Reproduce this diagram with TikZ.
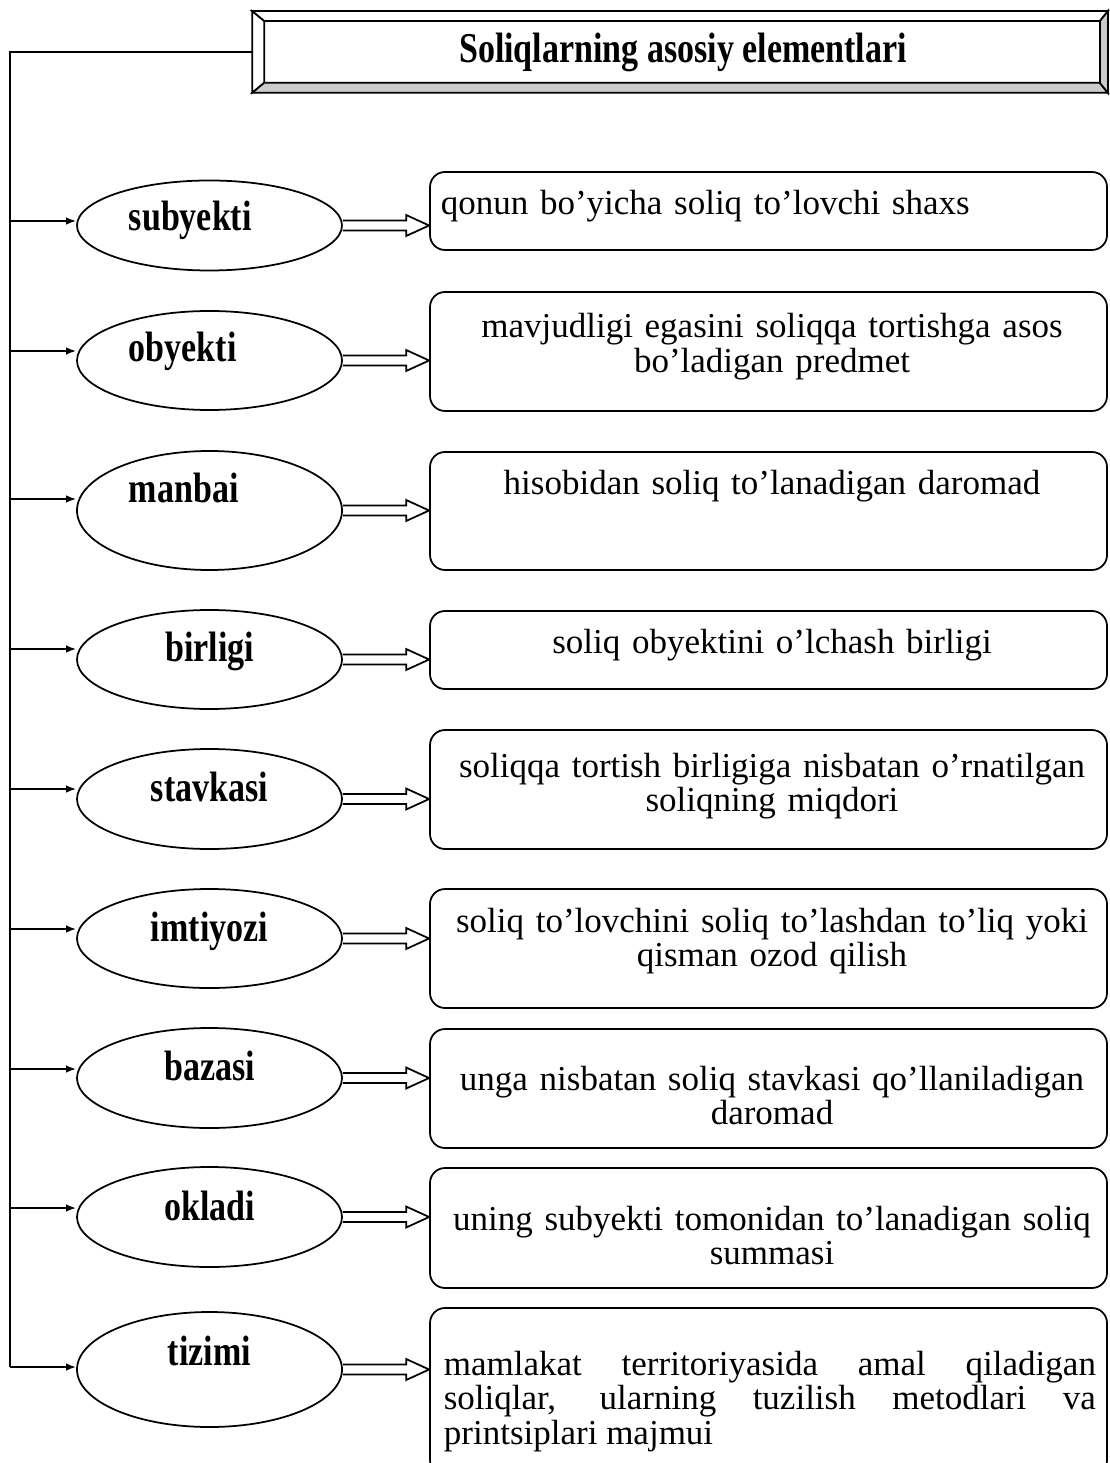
\documentclass[tikz,border=0pt]{standalone}
\usepackage{fontspec}
\setmainfont{Liberation Serif}
\newfontfamily\lblfont[FakeStretch=0.8]{Liberation Serif}
\usetikzlibrary{shapes.geometric,arrows.meta,fit,calc}
\begin{document}
\begin{tikzpicture}[x=0.4pt,y=-0.4pt,
  line width=0.7pt,
  ell/.style={draw, ellipse, inner sep=0pt, minimum width=106pt},
  lbl/.style={font=\lblfont\fontsize{17}{19}\selectfont\bfseries, inner sep=0pt},
  rbox/.style={draw, rounded corners=6pt, inner sep=0pt},
  btxt/.style={font=\fontsize{14}{13.8}\selectfont, inner sep=0pt, text width=260.8pt, align=center, anchor=base},
  arr/.style={-{Latex[length=4pt,width=3pt]}},
  dbl/.style={line join=miter}
]
\useasboundingbox (0,0) rectangle (1109,1463);

% title box
\node[fit={(253,12)(1107,92)}, inner sep=0pt] (tout) {};
\node[fit={(265,22)(1099,82)}, inner sep=0pt] (tin) {};
\draw[fill=white] (tout.north west) -- (tout.north east) -- (tin.north east) -- (tin.north west) -- cycle;
\draw[fill=white] (tout.north west) -- (tin.north west) -- (tin.south west) -- (tout.south west) -- cycle;
\draw[fill=gray!40] (tout.south west) -- (tin.south west) -- (tin.south east) -- (tout.south east) -- cycle;
\draw[fill=gray!40] (tout.north east) -- (tout.south east) -- (tin.south east) -- (tin.north east) -- cycle;
\node[lbl, anchor=base] (title) at (683,63) {Soliqlarning asosiy elementlari};

% ellipses
\node[ell, minimum height=36pt]   (e1) at (209.5,225.5) {};
\node[ell, minimum height=39.6pt] (e2) at (209.5,360.5) {};
\node[ell, minimum height=47.6pt] (e3) at (209.5,510.5) {};
\node[ell, minimum height=39.6pt] (e4) at (209.5,659.5) {};
\node[ell, minimum height=40pt]   (e5) at (209.5,799) {};
\node[ell, minimum height=39.6pt] (e6) at (209.5,938.5) {};
\node[ell, minimum height=40pt]   (e7) at (209.5,1078) {};
\node[ell, minimum height=40pt]   (e8) at (209.5,1217) {};
\node[ell, minimum height=46pt]   (e9) at (209.5,1369.5) {};

% labels
\node[lbl, anchor=base west] (l1) at (128,231) {subyekti};
\node[lbl, anchor=base west] (l2) at (128,362) {obyekti};
\node[lbl, anchor=base west] (l3) at (128,503) {manbai};
\node[lbl, anchor=base] (l4) at (209.5,661) {birligi};
\node[lbl, anchor=base] (l5) at (209.5,801) {stavkasi};
\node[lbl, anchor=base] (l6) at (209.5,941) {imtiyozi};
\node[lbl, anchor=base] (l7) at (209.5,1080) {bazasi};
\node[lbl, anchor=base] (l8) at (209.5,1220) {okladi};
\node[lbl, anchor=base] (l9) at (209.5,1365) {tizimi};

% boxes
\node[rbox, fit={(430,172)(1107,250)}]  (b1) {};
\node[rbox, fit={(430,292)(1107,411)}]  (b2) {};
\node[rbox, fit={(430,452)(1107,570)}]  (b3) {};
\node[rbox, fit={(430,611)(1107,689)}]  (b4) {};
\node[rbox, fit={(430,730)(1107,849)}]  (b5) {};
\node[rbox, fit={(430,889)(1107,1008)}] (b6) {};
\node[rbox, fit={(430,1029)(1107,1148)}] (b7) {};
\node[rbox, fit={(430,1168)(1107,1288)}] (b8) {};
\node[rbox, fit={(430,1308)(1107,1475)}] (b9) {};

% box texts
\node[btxt, align=left, anchor=base west] (t1) at (440,215) {qonun bo’yicha soliq to’lovchi shaxs};
\node[btxt] (t2) at (772,338) {mavjudligi egasini soliqqa tortishga asos\\ bo’ladigan predmet};
\node[btxt] (t3) at (772,495) {hisobidan soliq to’lanadigan daromad};
\node[btxt] (t4) at (772,653) {soliq obyektini o’lchash birligi};
\node[btxt] (t5) at (772,777) {soliqqa tortish birligiga nisbatan o’rnatilgan\\ soliqning miqdori};
\node[btxt] (t6) at (772,932) {soliq to’lovchini soliq to’lashdan to’liq yoki\\ qisman ozod qilish};
\node[btxt] (t7) at (772,1090) {unga nisbatan soliq stavkasi qo’llaniladigan\\ daromad};
\node[btxt] (t8) at (772,1230) {uning subyekti tomonidan to’lanadigan soliq\\ summasi};
\node[btxt, align=justify, anchor=base west] (t9) at (443,1375) {\tolerance=10000 mamlakat territoriyasida amal qiladigan\linebreak soliqlar, ularning tuzilish metodlari va\linebreak printsiplari majmui};

% double arrows
\foreach \e/\b in {e1/b1,e2/b2,e3/b3,e4/b4,e5/b5,e6/b6,e7/b7,e8/b8,e9/b9}{
  \coordinate (s\e) at (\e.east);
  \coordinate (t\e) at (\e.east -| \b.west);
  \draw[dbl] ($(s\e)+(0,-5)$) -- ($(t\e)+(-23,-5)$) -- ($(t\e)+(-23,-10.5)$) -- (t\e)
    -- ($(t\e)+(-23,10.5)$) -- ($(t\e)+(-23,5)$) -- ($(s\e)+(0,5)$);
}

% trunk and single arrows
\coordinate (trunk) at (10,52);
\foreach \e/\d in {e1/-4.5,e2/-9.5,e3/-11.5,e4/-10.5,e5/-10,e6/-9.5,e7/-9,e8/-9,e9/-2.5}{
  \coordinate (p\e) at ($(\e.west)+(0,\d)$);
  \draw[arr] (p\e -| trunk) -- (p\e);
}
\draw (tout.west) -- (trunk) -- (trunk |- pe9);
\end{tikzpicture}
\end{document}
